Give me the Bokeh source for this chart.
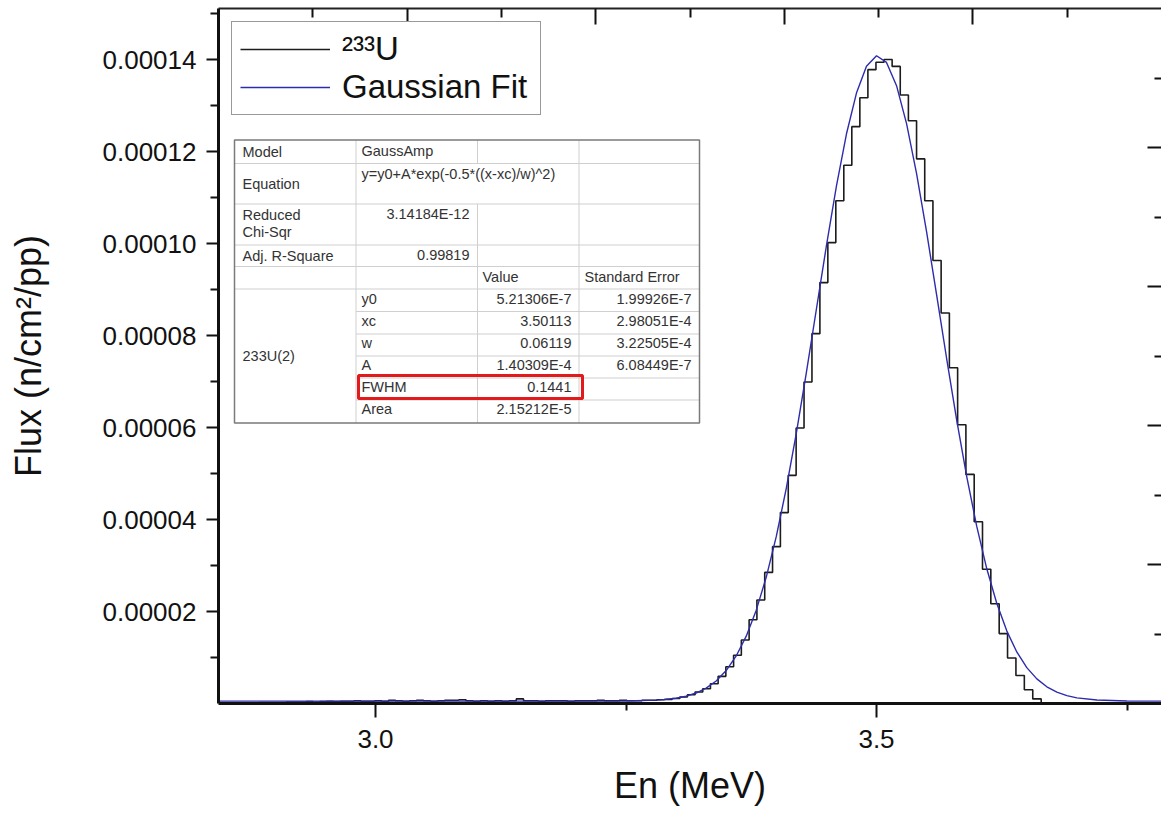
import numpy as np
from bokeh.plotting import figure
from bokeh.models import (Range1d, LinearAxis, FixedTicker, PrintfTickFormatter,
                          Legend, LegendItem)
from bokeh.core.properties import value
from bokeh.embed import file_html
from bokeh.resources import INLINE

# ---------------- data ----------------
# histogram: equal-lethargy bins, 1000 bins per decade; edges = 10**(k/1000) MeV
BIN_K_START = 454
BINS_PER_DECADE = 1000
# flux per bin in units of 1e-5 n/cm^2/pp
flux_e5 = [
    # left tail (k = 454 .. 521)
    0.00, 0.00, 0.01, 0.01, 0.01, 0.01, 0.02, 0.02, 0.02, 0.02,
    0.03, 0.03, 0.03, 0.04, 0.03, 0.04, 0.05, 0.04, 0.05, 0.05,
    0.06, 0.05, 0.05, 0.06, 0.05, 0.07, 0.06, 0.05, 0.06, 0.07,
    0.06, 0.05, 0.06, 0.07, 0.07, 0.08, 0.06, 0.05, 0.06, 0.05,
    0.06, 0.05, 0.06, 0.10, 0.06, 0.06, 0.05, 0.06, 0.06, 0.06,
    0.05, 0.06, 0.06, 0.06, 0.07, 0.06, 0.06, 0.07, 0.06, 0.06,
    0.07, 0.07, 0.08, 0.09, 0.11, 0.14, 0.19, 0.25,
    # peak (k = 522 .. 564)
    0.32, 0.43, 0.59, 0.80, 1.05, 1.38, 1.82, 2.25, 2.85, 3.41,
    4.15, 4.96, 5.99, 6.99, 8.04, 9.15, 10.02, 10.93, 11.70, 12.54,
    13.17, 13.78, 13.94, 14.00, 13.85, 13.23, 12.67, 11.84, 10.93, 9.63,
    8.49, 7.30, 6.06, 4.98, 3.95, 2.92, 2.17, 1.52, 0.99, 0.61,
    0.30, 0.10, 0.01,
    # right tail (k = 565 .. 578)
    0.0, 0.0, 0.0, 0.0, 0.0, 0.0, 0.0, 0.0, 0.0, 0.0, 0.0, 0.0, 0.0, 0.0,
]

# Gaussian fit curve (values in units of 1e-5)
fit_x = [2.84, 3.00, 3.10, 3.20, 3.25, 3.28, 3.29, 3.30, 3.31, 3.32, 3.33, 3.34,
         3.35, 3.36, 3.37, 3.38, 3.39, 3.40, 3.41, 3.42, 3.43, 3.44, 3.45, 3.46,
         3.47, 3.48, 3.49, 3.50, 3.51, 3.52, 3.53, 3.54, 3.55, 3.56, 3.57, 3.58,
         3.59, 3.60, 3.61, 3.62, 3.63, 3.64, 3.65, 3.66, 3.67, 3.68, 3.69, 3.70,
         3.72, 3.75, 3.79]
fit_e5 = [0.0521, 0.0521, 0.0521, 0.0522, 0.0552, 0.0725, 0.0886, 0.1154, 0.1589, 0.2276, 0.3331, 0.4900,
          0.7166, 1.0337, 1.4642, 2.0296, 2.7491, 3.6326, 4.6808, 5.8777, 7.1919, 8.5706, 9.9482, 11.246,
          12.380, 13.271, 13.853, 14.081, 13.936, 13.431, 12.605, 11.519, 10.251, 8.8845, 7.4998, 6.1662,
          4.9390, 3.8555, 2.9336, 2.1785, 1.5792, 1.1203, 0.7796, 0.5346, 0.3634, 0.2477, 0.1718, 0.1234,
          0.0755, 0.0557, 0.0521]

x_major = [3.0, 3.5]
x_minor = [3.25, 3.75]
y_major = [0.00002, 0.00004, 0.00006, 0.00008, 0.00010, 0.00012, 0.00014]
y_minor = [0.00001, 0.00003, 0.00005, 0.00007, 0.00009, 0.00011, 0.00013, 0.00015]

legend_labels = ["\u00b2\u00b3\u00b3U", "Gaussian Fit"]
x_label = "En (MeV)"
y_label = "Flux (n/cm\u00b2/pp)"

# fit-report table contents
tbl_model = "GaussAmp"
tbl_equation = "y=y0+A*exp(-0.5*((x-xc)/w)^2)"
tbl_chisqr = "3.14184E-12"
tbl_r2 = "0.99819"
tbl_dataset = "233U(2)"
tbl_params = ["y0", "xc", "w", "A", "FWHM", "Area"]
tbl_values = ["5.21306E-7", "3.50113", "0.06119", "1.40309E-4", "0.1441", "2.15212E-5"]
tbl_errors = ["1.99926E-7", "2.98051E-4", "3.22505E-4", "6.08449E-7", "", ""]

# ---------------- layout constants ----------------
FONT = "Liberation Sans"
W, H = 1161, 813
FRAME_L, FRAME_R, FRAME_T, FRAME_B = 218, 1161, 8, 703
X0, X1 = 2.84331, 3.78443
Y0, Y1 = 0.0, 0.00015109

p = figure(width=W, height=H, output_backend="svg", toolbar_location=None,
           x_range=Range1d(X0, X1), y_range=Range1d(Y0, Y1),
           min_border_left=FRAME_L, min_border_right=0, min_border_top=FRAME_T,
           min_border_bottom=H - FRAME_B)
p.outline_line_color = None
p.xgrid.visible = False
p.ygrid.visible = False
p.background_fill_color = "white"
p.border_fill_color = "white"

xa = p.xaxis[0]
ya = p.yaxis[0]
for ax in (xa, ya):
    ax.axis_line_width = 3
    ax.axis_line_color = "#111111"
    ax.major_tick_line_width = 2
    ax.minor_tick_line_width = 2
    ax.major_tick_line_color = "#111111"
    ax.minor_tick_line_color = "#111111"
    ax.major_tick_in = 0
    ax.minor_tick_in = 0
    ax.major_label_text_font = FONT
    ax.major_label_text_font_size = "26px"
    ax.major_label_text_color = "#111111"
    ax.axis_label_text_font = FONT
    ax.axis_label_text_font_size = "36px"
    ax.axis_label_text_font_style = "normal"
    ax.axis_label_text_color = "#111111"

xa.ticker = FixedTicker(ticks=x_major, minor_ticks=x_minor)
xa.formatter = PrintfTickFormatter(format="%.1f")
xa.axis_label = x_label
xa.major_tick_out = 14
xa.minor_tick_out = 7
xa.major_label_standoff = 12
xa.axis_label_standoff = 14

ya.ticker = FixedTicker(ticks=y_major, minor_ticks=y_minor)
ya.formatter = PrintfTickFormatter(format="%.5f")
ya.axis_label = y_label
ya.major_tick_out = 12
ya.minor_tick_out = 8
ya.major_label_standoff = 10
ya.axis_label_standoff = 51

# top and right frame axes (ticks only, pointing inward)
p.extra_x_ranges = {"top": Range1d(0, 5)}
p.extra_y_ranges = {"right": Range1d(0, 5)}
frame_ticker = dict(ticks=[1, 2, 3, 4], minor_ticks=[0.5, 1.5, 2.5, 3.5, 4.5])
blank = {1: "", 2: "", 3: "", 4: ""}
top_ax = LinearAxis(x_range_name="top", ticker=FixedTicker(**frame_ticker),
                    major_tick_in=16, major_tick_out=0, minor_tick_in=9, minor_tick_out=0,
                    major_label_overrides=blank, major_label_text_font_size="0px",
                    major_label_standoff=0, axis_line_width=2, axis_line_color="#222222",
                    major_tick_line_width=2, minor_tick_line_width=2,
                    major_tick_line_color="#111111", minor_tick_line_color="#111111")
right_ax = LinearAxis(y_range_name="right", ticker=FixedTicker(**frame_ticker),
                      major_tick_in=14, major_tick_out=0, minor_tick_in=7, minor_tick_out=0,
                      major_label_overrides=blank, major_label_text_font_size="0px",
                      major_label_standoff=0, axis_line_color=None,
                      major_tick_line_width=2, minor_tick_line_width=2,
                      major_tick_line_color="#111111", minor_tick_line_color="#111111")
p.add_layout(top_ax, "above")
p.add_layout(right_ax, "right")

# ---------------- series ----------------
k = np.arange(BIN_K_START, BIN_K_START + len(flux_e5) + 1)
edges = 10.0 ** (k / BINS_PER_DECADE)
hist_y = np.array(flux_e5 + [flux_e5[-1]]) * 1e-5
r_hist = p.step(edges, hist_y, mode="after", line_color="#1c1c1c", line_width=1.6)
r_fit = p.line(fit_x, np.array(fit_e5) * 1e-5, line_color="#2c2cad", line_width=1.4)

legend = Legend(items=[LegendItem(label=legend_labels[0], renderers=[r_hist]),
                       LegendItem(label=legend_labels[1], renderers=[r_fit])],
                location="top_left", margin=13, padding=8, spacing=0,
                glyph_width=90, glyph_height=30, label_standoff=12, label_width=190,
                label_text_font=FONT, label_text_font_size="33px", label_text_color="#111111",
                border_line_color="#333333", border_line_width=1.5,
                background_fill_color="white", background_fill_alpha=1.0)
p.add_layout(legend)

# ---------------- fit report table ----------------
def px_x(px):
    return X0 + (px - FRAME_L) * (X1 - X0) / (FRAME_R - FRAME_L)

def px_y(py):
    return Y1 - (py - FRAME_T) * (Y1 - Y0) / (FRAME_B - FRAME_T)

TL, TR = 234, 699
C1, C2, C3 = 355.5, 477, 578.5
R = [139.5, 163, 203.5, 244.5, 266, 288.5, 311, 333.5, 355.5, 377.5, 399.5, 422.5]

p.quad(left=[px_x(TL)], right=[px_x(TR)], top=[px_y(R[0])], bottom=[px_y(R[-1])],
       fill_color="white", line_color=None)

hx0, hy0, hx1, hy1 = [], [], [], []
def hline(a, b, yy):
    hx0.append(px_x(a)); hx1.append(px_x(b)); hy0.append(px_y(yy)); hy1.append(px_y(yy))
def vline(xx, a, b):
    hx0.append(px_x(xx)); hx1.append(px_x(xx)); hy0.append(px_y(a)); hy1.append(px_y(b))

for i in range(1, 6):
    hline(TL, TR, R[i])
for i in range(6, 11):
    hline(C1, TR, R[i])
vline(C1, R[0], R[-1])
vline(C2, R[0], R[1])
vline(C2, R[2], R[-1])
vline(C3, R[0], R[-1])
p.segment(x0=hx0, y0=hy0, x1=hx1, y1=hy1, line_color="#cfcfcf", line_width=1)

p.quad(left=[px_x(TL)], right=[px_x(TR)], top=[px_y(R[0])], bottom=[px_y(R[-1])],
       fill_color=None, line_color="#7a7a7a", line_width=1.5)

# highlight box around FWHM
p.quad(left=[px_x(358)], right=[px_x(582)], top=[px_y(375)], bottom=[px_y(398)],
       fill_color=None, line_color="#e31a1c", line_width=3)

lt_x, lt_y, lt_t = [], [], []
rt_x, rt_y, rt_t = [], [], []
def tl(px, py, t):
    lt_x.append(px_x(px)); lt_y.append(px_y(py)); lt_t.append(t)
def tr(px, py, t):
    rt_x.append(px_x(px)); rt_y.append(px_y(py)); rt_t.append(t)

tl(242, 151, "Model")
tl(361, 150, tbl_model)
tl(242, 183, "Equation")
tl(361, 173, tbl_equation)
tl(242, 214, "Reduced")
tl(242, 231, "Chi-Sqr")
tr(469, 213, tbl_chisqr)
tl(242, 255, "Adj. R-Square")
tr(469, 254, tbl_r2)
tl(482, 276, "Value")
tl(584, 276, "Standard Error")
tl(242, 355, tbl_dataset)
row_y = [298, 320, 342, 364, 386, 408]
for ry, name, val, err in zip(row_y, tbl_params, tbl_values, tbl_errors):
    tl(361, ry, name)
    tr(571, ry, val)
    if err:
        tr(691, ry, err)

common = dict(text_font=value(FONT), text_font_size="14.5px", text_color="#333333",
              text_baseline="middle")
p.text(x=lt_x, y=lt_y, text=lt_t, text_align="left", **common)
p.text(x=rt_x, y=rt_y, text=rt_t, text_align="right", **common)

open("out.html", "w").write(file_html(p, INLINE))
